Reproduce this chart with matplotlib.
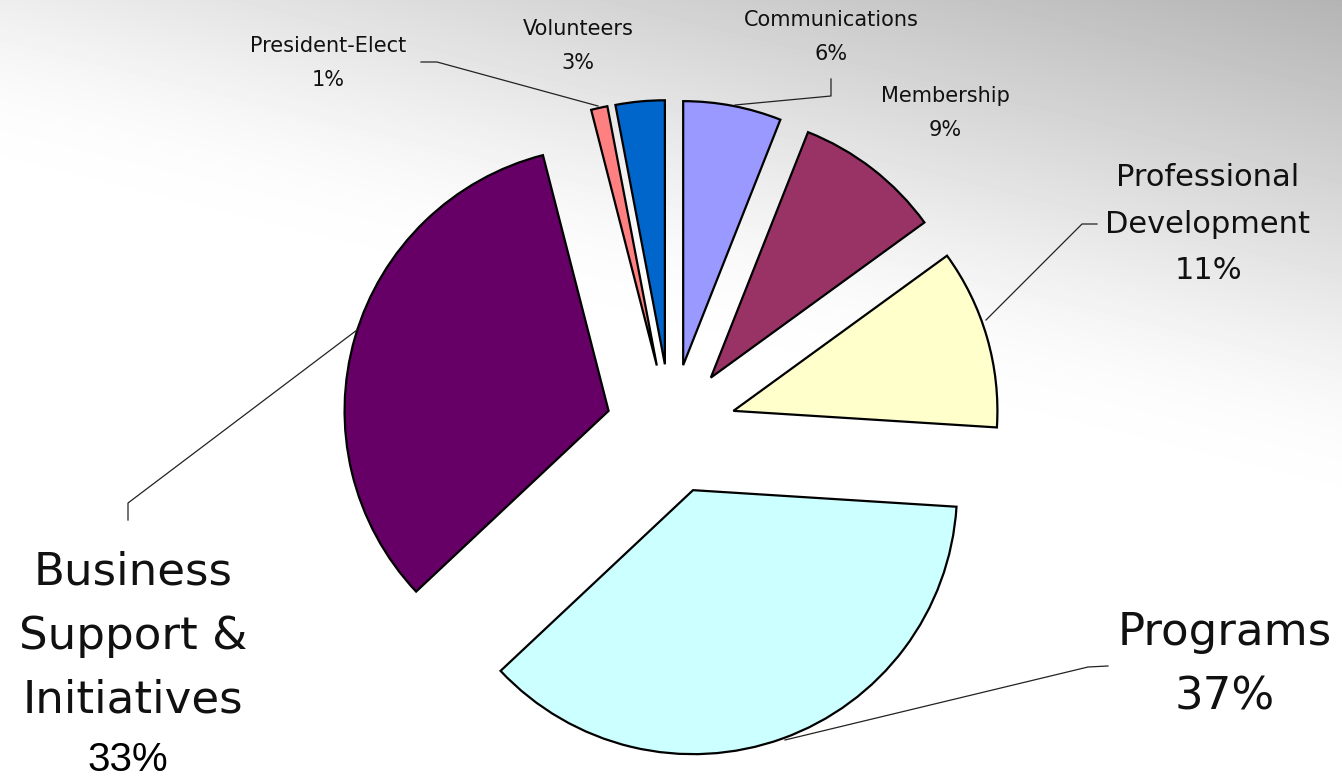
import numpy as np
import matplotlib
matplotlib.use("Agg")
import matplotlib.pyplot as plt

# budget split (clockwise from 12 o'clock)
categories = ["Communications", "Membership", "Professional\nDevelopment", "Programs",
              "Business\nSupport &\nInitiatives", "President-Elect", "Volunteers"]
shares = [6, 9, 11, 37, 33, 1, 3]
colors = ["#9999FF", "#993366", "#FFFFCC", "#CCFFFF", "#660066", "#FF8080", "#0066CC"]

W, H = 1342, 779
def Y(py):
    return H - py

fig = plt.figure(figsize=(W / 100, H / 100), dpi=100)
ax = fig.add_axes([0, 0, 1, 1])

# -------- pie --------
ax.pie(shares, colors=colors, startangle=90, counterclock=False,
       center=(671, Y(429)), radius=264, explode=[65] * len(shares),
       wedgeprops=dict(edgecolor="black", linewidth=1.6), frame=True)

# background gradient (gray top-right -> white bottom-left), soft falloff
yy, xx = np.mgrid[0:H, 0:W]
lin = 17 + 58 * xx / W - 0.175 * yy
s = 6.0
dark = s * np.log1p(np.exp(lin / s))
bg = (255 - dark) / 255
ax.imshow(bg, cmap="gray", vmin=0, vmax=1, extent=[0, W, 0, H],
          origin="upper", aspect="auto", zorder=0)

ax.set_xlim(0, W)
ax.set_ylim(0, H)
ax.set_aspect("auto")
ax.axis("off")

# -------- labels --------
small = 15
big = 32.5
label_pos = [(831, 37), (945, 113), (1208, 224), (1225, 665),
             (133, 636), (328, 63), (578, 46)]
label_size = [small, small, 22, big, big, small, small]
label_ls = [1.9, 1.9, 1.78, 1.62, 1.62, 1.9, 1.9]
for i, (name, v) in enumerate(zip(categories, shares)):
    x, y = label_pos[i]
    txt = name if "Business" in name else f"{name}\n{v}%"
    ax.text(x, Y(y), txt, ha="center", va="center", fontsize=label_size[i],
            family="DejaVu Sans", color="#111111", linespacing=label_ls[i],
            zorder=5)
# the business share is set in a different face on the original
ax.text(128, Y(760), f"{shares[4]}%", ha="center", va="center",
        fontsize=29, family="Liberation Sans", color="black", zorder=5)

# -------- leader lines --------
leaders = [
    [(421, 62), (437, 62), (598, 106)],
    [(831, 79), (831, 96), (735, 105)],
    [(1097, 224), (1082, 224), (986, 320)],
    [(1108, 666), (1088, 667), (785, 740)],
    [(128, 520), (128, 503), (357, 330)],
]
for pts in leaders:
    ax.plot([p[0] for p in pts], [Y(p[1]) for p in pts], color="#222222",
            lw=0.9, zorder=4)

fig.savefig("out.png", dpi=100)
